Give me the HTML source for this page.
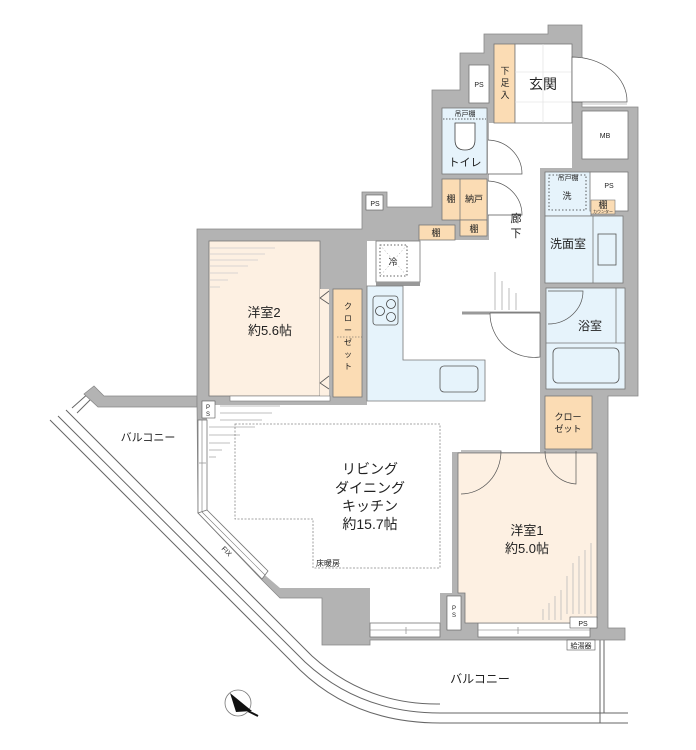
<!DOCTYPE html>
<html><head><meta charset="utf-8"><style>
html,body{margin:0;padding:0;background:#fff;}
svg{display:block;}
text{font-family:"Liberation Sans","Noto Sans CJK JP",sans-serif;fill:#222;}
</style></head><body>
<svg width="696" height="750" viewBox="0 0 696 750" xmlns="http://www.w3.org/2000/svg">
<!-- balcony rails -->
<g fill="none" stroke="#666" stroke-width="1">
<path d="M58,416 L305,662 Q360,713 440,713 L628,713"/>
<path d="M66,410 L312,656 Q366,705 440,704"/>
<path d="M50,420 L300,670 Q355,723 440,723 L628,723"/>
<line x1="600" y1="640" x2="600" y2="723"/><line x1="604" y1="640" x2="604" y2="713"/>
<line x1="77" y1="413" x2="94" y2="396"/><line x1="72" y1="408" x2="90" y2="392"/>
</g>
<!-- balcony left wall -->
<polygon points="84,394 94,386 104,396 197,396 197,407 98,407" fill="#b3b3b3" stroke="#888" stroke-width="0.8"/>
<!-- building footprint gray -->
<polygon points="197,229 362,229 362,192 387,192 387,207 432,207 432,90 460,90 460,53 484,53 484,34 548,34 548,25 582,25 582,107 638,107 638,396 608,396 608,628 625,628 625,640 370,640 370,645 322,645 322,598 280,598 262,580 198,513 197,400" fill="#b3b3b3" stroke="#888" stroke-width="0.8"/>
<!-- LDK / hall white -->
<polygon points="207,405 367,405 367,241 419,241 419,240 489,240 489,123 572,123 572,160 540,160 540,452 452,452 452,593 440,593 440,625 370,625 370,588 280,588 266,576 207,514" fill="#fff"/>
<rect x="489" y="123" width="51" height="190" fill="#fff"/>
<rect x="540" y="123" width="32" height="45" fill="#fff"/>
<line x1="462" y1="313" x2="540" y2="313" stroke="#999" stroke-width="3"/>
<!-- window strips LDK -->
<rect x="198" y="420" width="9" height="93" fill="#fff" stroke="#777" stroke-width="0.8"/>
<line x1="202" y1="420" x2="202" y2="513" stroke="#777" stroke-width="0.6"/>
<polygon points="198,513 207,510 268,571 262,579" fill="#fff" stroke="#777" stroke-width="0.8"/>
<line x1="202" y1="512" x2="265" y2="575" stroke="#777" stroke-width="0.6"/>
<rect x="370" y="623" width="70" height="14" fill="#fff" stroke="#777" stroke-width="0.8"/>
<line x1="370" y1="630" x2="440" y2="630" stroke="#777" stroke-width="0.6"/>
<rect x="478" y="623" width="112" height="14" fill="#fff" stroke="#777" stroke-width="0.8"/>
<line x1="478" y1="630" x2="590" y2="630" stroke="#777" stroke-width="0.6"/>
<g stroke="#999" stroke-width="0.8"><line x1="406" y1="627" x2="406" y2="634"/><line x1="518" y1="627" x2="518" y2="634"/><line x1="199" y1="463" x2="206" y2="463"/></g>
<!-- floor heating hatching -->
<g stroke="#aaa" stroke-width="0.8">
<line x1="220" y1="406" x2="280" y2="406"/><line x1="220" y1="413" x2="272" y2="413"/><line x1="220" y1="420" x2="262" y2="420"/>
<line x1="209" y1="427" x2="255" y2="427"/><line x1="209" y1="435" x2="240" y2="435"/><line x1="209" y1="443" x2="230" y2="443"/><line x1="209" y1="450" x2="222" y2="450"/><line x1="209" y1="457" x2="216" y2="457"/>
<line x1="495" y1="272" x2="495" y2="310"/><line x1="502" y1="281" x2="502" y2="310"/><line x1="509" y1="288" x2="509" y2="310"/><line x1="516" y1="293" x2="516" y2="310"/>
</g>
<polygon points="235,424 440,424 440,568 313,568 313,519 235,519" fill="none" stroke="#888" stroke-width="0.8" stroke-dasharray="2,1.5"/>
<!-- room 2 -->
<rect x="209" y="241" width="111" height="155" fill="#fdf0e2" stroke="#777" stroke-width="0.8"/>
<g stroke="#ccc" stroke-width="0.8"><line x1="210" y1="248" x2="275" y2="248"/><line x1="210" y1="254" x2="265" y2="254"/><line x1="210" y1="260" x2="258" y2="260"/><line x1="210" y1="266" x2="248" y2="266"/><line x1="210" y1="273" x2="238" y2="273"/><line x1="210" y1="280" x2="228" y2="280"/><line x1="210" y1="287" x2="220" y2="287"/></g>
<rect x="320" y="289" width="9" height="107" fill="#fdf0e2"/>
<rect x="333" y="289" width="29" height="108" fill="#fbdcb4" stroke="#777" stroke-width="0.8"/>
<polyline points="329,291 320,298 329,304" fill="none" stroke="#555" stroke-width="0.8"/>
<polyline points="329,376 320,383 329,389" fill="none" stroke="#555" stroke-width="0.8"/>
<rect x="230" y="396" width="100" height="5" fill="#fff" stroke="#777" stroke-width="0.6"/>
<rect x="202" y="401" width="13" height="17" fill="#fff" stroke="#555" stroke-width="0.6"/>
<!-- kitchen -->
<rect x="376" y="241" width="44" height="41" fill="#fff" stroke="#777" stroke-width="0.8"/>
<rect x="380" y="245" width="27" height="31" fill="none" stroke="#333" stroke-width="0.8" stroke-dasharray="1.5,2"/>
<line x1="380" y1="245" x2="407" y2="276" stroke="#999" stroke-width="0.5" stroke-dasharray="1.5,2"/>
<line x1="407" y1="245" x2="380" y2="276" stroke="#999" stroke-width="0.5" stroke-dasharray="1.5,2"/>
<rect x="376" y="282" width="44" height="4" fill="#999"/>
<polygon points="367,286 403,286 403,360 485,360 485,401 367,401" fill="#e6f3fb" stroke="#777" stroke-width="0.8"/>
<rect x="373" y="296" width="25" height="29" rx="3" fill="none" stroke="#555" stroke-width="0.8"/>
<g fill="none" stroke="#444" stroke-width="0.8"><circle cx="380" cy="311" r="4.5"/><circle cx="391" cy="304" r="4.5"/><circle cx="391" cy="317" r="4.5"/></g>
<rect x="440" y="366" width="38" height="26" rx="4" fill="none" stroke="#555" stroke-width="0.8"/>
<!-- genkan -->
<rect x="494" y="44" width="21" height="79" fill="#fbdcb4" stroke="#777" stroke-width="0.8"/>
<rect x="515" y="44" width="57" height="79" fill="#fff" stroke="#777" stroke-width="0.8"/>
<g stroke="#ddd" stroke-width="0.6"><line x1="543" y1="44" x2="543" y2="123"/><line x1="515" y1="72" x2="572" y2="72"/><line x1="515" y1="102" x2="572" y2="102"/></g>
<rect x="572" y="57" width="10" height="44" fill="#fff"/>
<path d="M572,57 A55,44 0 0 1 627,101 L627,102 L572,102 Z" fill="#fff" stroke="#555" stroke-width="0.7"/>
<line x1="582" y1="104" x2="627" y2="104" stroke="#888" stroke-width="0.6"/>
<rect x="582" y="111" width="46" height="48" fill="#fff" stroke="#777" stroke-width="0.8"/>
<rect x="469" y="65" width="20" height="38" fill="#fff" stroke="#777" stroke-width="0.8"/>
<!-- toilet -->
<rect x="442" y="108" width="45" height="66" fill="#e6f3fb" stroke="#777" stroke-width="0.8"/>
<line x1="443" y1="119" x2="486" y2="119" stroke="#333" stroke-width="0.7" stroke-dasharray="1.5,1.5"/>
<path d="M455,123 L475,123 L475,140 Q475,150 465,150 Q455,150 455,140 Z" fill="#fff" stroke="#444" stroke-width="0.8"/>
<path d="M488,140 A35,34 0 0 1 522,174 L488,174" fill="#fff" stroke="#555" stroke-width="0.7"/>
<!-- storage -->
<rect x="442" y="179" width="45" height="41" fill="#fbdcb4" stroke="#777" stroke-width="0.8"/>
<line x1="460" y1="179" x2="460" y2="220" stroke="#777" stroke-width="0.8"/>
<rect x="460" y="220" width="27" height="16" fill="#fbdcb4" stroke="#777" stroke-width="0.8"/>
<rect x="419" y="225" width="36" height="15" fill="#fbdcb4" stroke="#777" stroke-width="0.8"/>
<path d="M488,181 A35,34 0 0 1 522,215 L488,215" fill="#fff" stroke="#555" stroke-width="0.7"/>
<!-- laundry -->
<rect x="545" y="172" width="46" height="44" fill="#e6f3fb" stroke="#777" stroke-width="0.8"/>
<rect x="545" y="216" width="78" height="67" fill="#e6f3fb" stroke="#777" stroke-width="0.8"/>
<line x1="593" y1="216" x2="593" y2="283" stroke="#777" stroke-width="0.8"/>
<rect x="598" y="234" width="18" height="31" fill="none" stroke="#555" stroke-width="0.8"/>
<rect x="549" y="175" width="37" height="35" fill="none" stroke="#333" stroke-width="0.8" stroke-dasharray="1.5,2"/>
<rect x="590" y="172" width="38" height="39" fill="#fff" stroke="#777" stroke-width="0.8"/>
<rect x="591" y="200" width="24" height="14" fill="#fbdcb4" stroke="#777" stroke-width="0.6"/>
<!-- bath -->
<rect x="546" y="288" width="79" height="101" fill="#e6f3fb" stroke="#777" stroke-width="0.8"/>
<line x1="546" y1="343" x2="625" y2="343" stroke="#777" stroke-width="0.8"/>
<line x1="616" y1="288" x2="616" y2="343" stroke="#777" stroke-width="0.8"/>
<rect x="553" y="348" width="66" height="35" rx="5" fill="none" stroke="#555" stroke-width="0.8"/>
<path d="M548,291 L583,291 A35,33 0 0 1 548,324" fill="none" stroke="#555" stroke-width="0.7"/>
<path d="M490,313 L540,313 L540,357 A44,44 0 0 1 490,313" fill="#fff" stroke="#555" stroke-width="0.7"/>
<!-- room1 -->
<rect x="545" y="396" width="47" height="53" fill="#fbdcb4" stroke="#777" stroke-width="0.8"/>
<polygon points="458,453 597,453 597,618 590,618 590,623 465,623 465,593 458,593" fill="#fdf0e2" stroke="#777" stroke-width="0.8"/>
<g stroke="#bbb" stroke-width="0.8"><line x1="591" y1="543" x2="591" y2="614"/><line x1="585" y1="550" x2="585" y2="614"/><line x1="579" y1="556" x2="579" y2="614"/><line x1="573" y1="563" x2="573" y2="614"/><line x1="567" y1="576" x2="567" y2="614"/><line x1="561" y1="590" x2="561" y2="620"/><line x1="555" y1="596" x2="555" y2="620"/><line x1="549" y1="603" x2="549" y2="620"/><line x1="543" y1="609" x2="543" y2="620"/></g>
<path d="M461,451 L501,451 A40,43 0 0 1 461,494" fill="none" stroke="#555" stroke-width="0.7"/>
<path d="M576,451 L576,484 A33,33 0 0 1 545,451" fill="none" stroke="#555" stroke-width="0.7"/>
<rect x="447" y="596" width="14" height="34" fill="#fff" stroke="#555" stroke-width="0.6"/>
<rect x="570" y="617" width="27" height="11" fill="#fff" stroke="#555" stroke-width="0.6"/>
<rect x="567" y="640" width="28" height="10" fill="#fff" stroke="#555" stroke-width="0.6"/>
<rect x="366" y="195" width="17" height="15" fill="#fff" stroke="#555" stroke-width="0.6"/>
<!-- compass -->
<circle cx="238" cy="703" r="13" fill="none" stroke="#777" stroke-width="0.8"/>
<polygon points="230,693 252,711 236,712" fill="#111"/>
<line x1="248" y1="711" x2="258" y2="716" stroke="#111" stroke-width="2"/>
<!-- text -->
<text x="543" y="89" font-size="14" text-anchor="middle">玄関</text>
<g font-size="9" text-anchor="middle"><text x="505" y="74">下</text><text x="505" y="86">足</text><text x="505" y="98">入</text></g>
<g font-size="7" text-anchor="middle" fill="#333">
<text x="479" y="87">PS</text><text x="605" y="138">MB</text><text x="609" y="188">PS</text><text x="375" y="206">PS</text>
<text x="465" y="116">吊戸棚</text><text x="568" y="180">吊戸棚</text><text x="583" y="626">PS</text>
</g>
<text x="465" y="166" font-size="11" text-anchor="middle">トイレ</text>
<g font-size="9" text-anchor="middle"><text x="451" y="202">棚</text><text x="474" y="202">納戸</text><text x="474" y="232">棚</text><text x="436" y="236">棚</text><text x="603" y="208">棚</text></g>
<text x="603" y="213" font-size="4" text-anchor="middle">カウンター</text>
<text x="567" y="199" font-size="9" text-anchor="middle">洗</text>
<text x="393" y="265" font-size="9" text-anchor="middle">冷</text>
<g font-size="11" text-anchor="middle"><text x="516" y="222">廊</text><text x="516" y="237">下</text></g>
<text x="568" y="248" font-size="12" text-anchor="middle">洗面室</text>
<text x="590" y="330" font-size="12" text-anchor="middle">浴室</text>
<g font-size="13" text-anchor="middle"><text x="264" y="317">洋室2</text><text x="270" y="335">約5.6帖</text>
<text x="527" y="535">洋室1</text><text x="527" y="553">約5.0帖</text></g>
<g font-size="8" text-anchor="middle"><text x="348" y="309">ク</text><text x="348" y="321">ロ</text><text x="348" y="333">ー</text><text x="348" y="345">ゼ</text><text x="348" y="357">ッ</text><text x="348" y="369">ト</text></g>
<line x1="337" y1="337" x2="362" y2="337" stroke="#555" stroke-width="0.6" stroke-dasharray="1.5,1.5"/>
<g font-size="9" text-anchor="middle"><text x="568" y="420">クロー</text><text x="568" y="432">ゼット</text></g>
<g font-size="14" text-anchor="middle"><text x="370" y="474">リビング</text><text x="370" y="493">ダイニング</text><text x="370" y="511">キッチン</text><text x="370" y="529">約15.7帖</text></g>
<text x="316" y="566" font-size="8">床暖房</text>
<text x="148" y="441" font-size="11" text-anchor="middle">バルコニー</text>
<text x="480" y="683" font-size="12" text-anchor="middle">バルコニー</text>
<text x="225" y="553" font-size="7" transform="rotate(45 225 553)" text-anchor="middle">FIX</text>
<g font-size="6" text-anchor="middle"><text x="208" y="409">P</text><text x="208" y="416">S</text><text x="454" y="610">P</text><text x="454" y="617">S</text></g>
<text x="581" y="648" font-size="7" text-anchor="middle">給湯器</text>
</svg>
</body></html>
